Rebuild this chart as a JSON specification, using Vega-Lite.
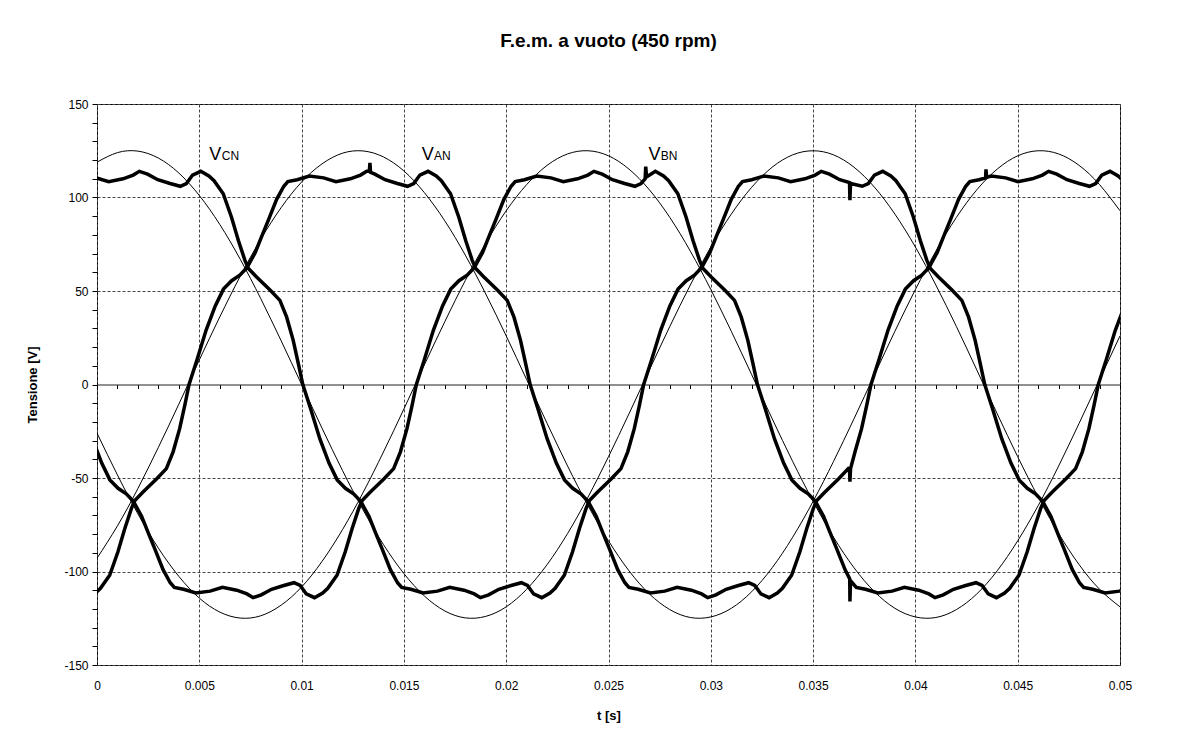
{
  "$schema": "https://vega.github.io/schema/vega-lite/v6.json",
  "width": 1023,
  "height": 561,
  "autosize": {"type": "none"},
  "padding": {"left": 97, "top": 104, "right": 81, "bottom": 77},
  "background": "white",
  "title": {"text": "F.e.m. a vuoto (450 rpm)", "fontSize": 19, "fontWeight": "bold", "font": "Liberation Sans", "color": "black", "offset": 47, "anchor": "middle"},
  "config": {
    "view": {"stroke": "black", "strokeWidth": 1},
    "axis": {"labelFont": "Liberation Sans", "titleFont": "Liberation Sans", "labelColor": "black", "titleColor": "black", "tickColor": "black", "labelOverlap": false, "labelFlush": false}
  },
  "datasets": {
    "sine": [
      {"t":0,"C":118.9,"A":-92.9,"B":-26.0},{"t":0.001,"C":124.0,"A":-75.6,"B":-48.4},{"t":0.002,"C":124.8,"A":-55.6,"B":-69.2},{"t":0.003,"C":121.1,"A":-33.6,"B":-87.5},{"t":0.004,"C":113.1,"A":-10.5,"B":-102.6},{"t":0.005,"C":101.1,"A":13.1,"B":-114.2},{"t":0.006,"C":85.6,"A":36.1,"B":-121.7},{"t":0.007,"C":67.0,"A":57.9,"B":-124.9},{"t":0.008,"C":46.0,"A":77.6,"B":-123.7},{"t":0.009,"C":23.4,"A":94.6,"B":-118.0},
      {"t":0.01,"C":0,"A":108.3,"B":-108.3},{"t":0.011,"C":-23.4,"A":118.0,"B":-94.6},{"t":0.012,"C":-46.0,"A":123.7,"B":-77.6},{"t":0.013,"C":-67.0,"A":124.9,"B":-57.9},{"t":0.014,"C":-85.6,"A":121.7,"B":-36.1},{"t":0.015,"C":-101.1,"A":114.2,"B":-13.1},{"t":0.016,"C":-113.1,"A":102.6,"B":10.5},{"t":0.017,"C":-121.1,"A":87.5,"B":33.6},{"t":0.018,"C":-124.8,"A":69.2,"B":55.6},{"t":0.019,"C":-124.0,"A":48.4,"B":75.6},
      {"t":0.02,"C":-118.9,"A":26.0,"B":92.9},{"t":0.021,"C":-109.5,"A":2.6,"B":106.9},{"t":0.022,"C":-96.3,"A":-20.8,"B":117.2},{"t":0.023,"C":-79.7,"A":-43.6,"B":123.3},{"t":0.024,"C":-60.2,"A":-64.8,"B":125.0},{"t":0.025,"C":-38.6,"A":-83.6,"B":122.3},{"t":0.026,"C":-15.7,"A":-99.6,"B":115.2},{"t":0.027,"C":7.8,"A":-112.0,"B":104.1},{"t":0.028,"C":31.1,"A":-120.4,"B":89.3},{"t":0.029,"C":53.2,"A":-124.6,"B":71.3},
      {"t":0.03,"C":73.5,"A":-124.3,"B":50.8},{"t":0.031,"C":91.1,"A":-119.7,"B":28.5},{"t":0.032,"C":105.5,"A":-110.8,"B":5.2},{"t":0.033,"C":116.2,"A":-98.0,"B":-18.3},{"t":0.034,"C":122.8,"A":-81.7,"B":-41.1},{"t":0.035,"C":125.0,"A":-62.5,"B":-62.5},{"t":0.036,"C":122.8,"A":-41.1,"B":-81.7},{"t":0.037,"C":116.2,"A":-18.3,"B":-98.0},{"t":0.038,"C":105.5,"A":5.2,"B":-110.8},{"t":0.039,"C":91.1,"A":28.5,"B":-119.7},
      {"t":0.04,"C":73.5,"A":50.8,"B":-124.3},{"t":0.041,"C":53.2,"A":71.3,"B":-124.6},{"t":0.042,"C":31.1,"A":89.3,"B":-120.4},{"t":0.043,"C":7.8,"A":104.1,"B":-112.0},{"t":0.044,"C":-15.7,"A":115.2,"B":-99.6},{"t":0.045,"C":-38.6,"A":122.3,"B":-83.6},{"t":0.046,"C":-60.2,"A":125.0,"B":-64.8},{"t":0.047,"C":-79.7,"A":123.3,"B":-43.6},{"t":0.048,"C":-96.3,"A":117.2,"B":-20.8},{"t":0.049,"C":-109.5,"A":106.9,"B":2.6},
      {"t":0.05,"C":-118.9,"A":92.9,"B":26.0}
    ],
    "meas": [
      {"p":"C","t":-0.00073,"v":111.5},{"p":"C","t":-0.00003,"v":110.5},{"p":"C","t":0.00057,"v":108.5},{"p":"C","t":0.00127,"v":110},{"p":"C","t":0.00177,"v":112},{"p":"C","t":0.00207,"v":114},{"p":"C","t":0.00247,"v":112.5},{"p":"C","t":0.00297,"v":109.5},{"p":"C","t":0.00357,"v":107.5},{"p":"C","t":0.00407,"v":106},{"p":"C","t":0.00437,"v":107.5},{"p":"C","t":0.00467,"v":112},{"p":"C","t":0.00507,"v":114},{"p":"C","t":0.00547,"v":111.5},{"p":"C","t":0.00572,"v":109},{"p":"C","t":0.00617,"v":102},{"p":"C","t":0.00657,"v":89.6},{"p":"C","t":0.00691,"v":77},{"p":"C","t":0.00723,"v":66.4},{"p":"C","t":0.0074,"v":62},{"p":"C","t":0.0078,"v":57.5},{"p":"C","t":0.00847,"v":50.4},{"p":"C","t":0.00894,"v":45},{"p":"C","t":0.00927,"v":36},{"p":"C","t":0.00959,"v":23.6},{"p":"C","t":0.00984,"v":11.1},{"p":"C","t":0.01006,"v":0},{"p":"C","t":0.01044,"v":-13},{"p":"C","t":0.01089,"v":-29},{"p":"C","t":0.01134,"v":-42},{"p":"C","t":0.01174,"v":-51},{"p":"C","t":0.01214,"v":-55.5},{"p":"C","t":0.01254,"v":-58.5},{"p":"C","t":0.01289,"v":-62.5},{"p":"C","t":0.01329,"v":-70.5},{"p":"C","t":0.01364,"v":-80},{"p":"C","t":0.01394,"v":-88},{"p":"C","t":0.01434,"v":-99},{"p":"C","t":0.01469,"v":-106},{"p":"C","t":0.01489,"v":-108.5},{"p":"C","t":0.01534,"v":-109.5},{"p":"C","t":0.01594,"v":-111.5},{"p":"C","t":0.01664,"v":-110.5},{"p":"C","t":0.01724,"v":-108.5},{"p":"C","t":0.01794,"v":-110},{"p":"C","t":0.01844,"v":-112},{"p":"C","t":0.01874,"v":-114},{"p":"C","t":0.01914,"v":-112.5},{"p":"C","t":0.01964,"v":-109.5},{"p":"C","t":0.02024,"v":-107.5},{"p":"C","t":0.02074,"v":-106},{"p":"C","t":0.02104,"v":-107.5},{"p":"C","t":0.02134,"v":-112},{"p":"C","t":0.02174,"v":-114},{"p":"C","t":0.02214,"v":-111.5},{"p":"C","t":0.02239,"v":-109},{"p":"C","t":0.02284,"v":-102},{"p":"C","t":0.02324,"v":-89.6},{"p":"C","t":0.02358,"v":-77},{"p":"C","t":0.0239,"v":-66.4},{"p":"C","t":0.02407,"v":-62},{"p":"C","t":0.02447,"v":-57.5},{"p":"C","t":0.02514,"v":-50.4},{"p":"C","t":0.02561,"v":-45},{"p":"C","t":0.02594,"v":-36},{"p":"C","t":0.02626,"v":-23.6},{"p":"C","t":0.02651,"v":-11.1},{"p":"C","t":0.02672,"v":0},{"p":"C","t":0.0271,"v":13},{"p":"C","t":0.02755,"v":29},{"p":"C","t":0.028,"v":42},{"p":"C","t":0.0284,"v":51},{"p":"C","t":0.0288,"v":55.5},{"p":"C","t":0.0292,"v":58.5},{"p":"C","t":0.02955,"v":62.5},{"p":"C","t":0.02995,"v":70.5},{"p":"C","t":0.0303,"v":80},{"p":"C","t":0.0306,"v":88},{"p":"C","t":0.031,"v":99},{"p":"C","t":0.03135,"v":106},{"p":"C","t":0.03155,"v":108.5},{"p":"C","t":0.032,"v":109.5},{"p":"C","t":0.0326,"v":111.5},{"p":"C","t":0.0333,"v":110.5},{"p":"C","t":0.0339,"v":108.5},{"p":"C","t":0.0346,"v":110},{"p":"C","t":0.0351,"v":112},{"p":"C","t":0.0354,"v":114},{"p":"C","t":0.0358,"v":112.5},{"p":"C","t":0.0363,"v":109.5},{"p":"C","t":0.03678,"v":108},{"p":"C","t":0.0368,"v":98.5},{"p":"C","t":0.03683,"v":107.5},{"p":"C","t":0.0374,"v":106},{"p":"C","t":0.0377,"v":107.5},{"p":"C","t":0.038,"v":112},{"p":"C","t":0.0384,"v":114},{"p":"C","t":0.0388,"v":111.5},{"p":"C","t":0.03905,"v":109},{"p":"C","t":0.0395,"v":102},{"p":"C","t":0.0399,"v":89.6},{"p":"C","t":0.04024,"v":77},{"p":"C","t":0.04056,"v":66.4},{"p":"C","t":0.04073,"v":62},{"p":"C","t":0.04113,"v":57.5},{"p":"C","t":0.0418,"v":50.4},{"p":"C","t":0.04227,"v":45},{"p":"C","t":0.0426,"v":36},{"p":"C","t":0.04292,"v":23.6},{"p":"C","t":0.04317,"v":11.1},{"p":"C","t":0.04339,"v":0},{"p":"C","t":0.04377,"v":-13},{"p":"C","t":0.04422,"v":-29},{"p":"C","t":0.04467,"v":-42},{"p":"C","t":0.04507,"v":-51},{"p":"C","t":0.04547,"v":-55.5},{"p":"C","t":0.04587,"v":-58.5},{"p":"C","t":0.04622,"v":-62.5},{"p":"C","t":0.04662,"v":-70.5},{"p":"C","t":0.04697,"v":-80},{"p":"C","t":0.04727,"v":-88},{"p":"C","t":0.04767,"v":-99},{"p":"C","t":0.04802,"v":-106},{"p":"C","t":0.04822,"v":-108.5},{"p":"C","t":0.04867,"v":-109.5},{"p":"C","t":0.04927,"v":-111.5},{"p":"C","t":0.04997,"v":-110.5},{"p":"C","t":0.05057,"v":-108.5},
      {"p":"A","t":-0.00258,"v":-109.5},{"p":"A","t":-0.00198,"v":-107.5},{"p":"A","t":-0.00148,"v":-106},{"p":"A","t":-0.00118,"v":-107.5},{"p":"A","t":-0.00088,"v":-112},{"p":"A","t":-0.00048,"v":-114},{"p":"A","t":-0.00008,"v":-111.5},{"p":"A","t":0.00017,"v":-109},{"p":"A","t":0.00062,"v":-102},{"p":"A","t":0.00102,"v":-89.6},{"p":"A","t":0.00136,"v":-77},{"p":"A","t":0.00168,"v":-66.4},{"p":"A","t":0.00185,"v":-62},{"p":"A","t":0.00225,"v":-57.5},{"p":"A","t":0.00292,"v":-50.4},{"p":"A","t":0.00339,"v":-45},{"p":"A","t":0.00372,"v":-36},{"p":"A","t":0.00404,"v":-23.6},{"p":"A","t":0.00429,"v":-11.1},{"p":"A","t":0.0045,"v":0},{"p":"A","t":0.00488,"v":13},{"p":"A","t":0.00533,"v":29},{"p":"A","t":0.00578,"v":42},{"p":"A","t":0.00618,"v":51},{"p":"A","t":0.00658,"v":55.5},{"p":"A","t":0.00698,"v":58.5},{"p":"A","t":0.00733,"v":62.5},{"p":"A","t":0.00773,"v":70.5},{"p":"A","t":0.00808,"v":80},{"p":"A","t":0.00838,"v":88},{"p":"A","t":0.00878,"v":99},{"p":"A","t":0.00913,"v":106},{"p":"A","t":0.00933,"v":108.5},{"p":"A","t":0.00978,"v":109.5},{"p":"A","t":0.01038,"v":111.5},{"p":"A","t":0.01108,"v":110.5},{"p":"A","t":0.01168,"v":108.5},{"p":"A","t":0.01238,"v":110},{"p":"A","t":0.01288,"v":112},{"p":"A","t":0.01318,"v":114},{"p":"A","t":0.01331,"v":114},{"p":"A","t":0.01334,"v":118.5},{"p":"A","t":0.01337,"v":113.5},{"p":"A","t":0.01358,"v":112.5},{"p":"A","t":0.01408,"v":109.5},{"p":"A","t":0.01468,"v":107.5},{"p":"A","t":0.01518,"v":106},{"p":"A","t":0.01548,"v":107.5},{"p":"A","t":0.01578,"v":112},{"p":"A","t":0.01618,"v":114},{"p":"A","t":0.01658,"v":111.5},{"p":"A","t":0.01683,"v":109},{"p":"A","t":0.01728,"v":102},{"p":"A","t":0.01768,"v":89.6},{"p":"A","t":0.01802,"v":77},{"p":"A","t":0.01834,"v":66.4},{"p":"A","t":0.01851,"v":62},{"p":"A","t":0.01891,"v":57.5},{"p":"A","t":0.01958,"v":50.4},{"p":"A","t":0.02005,"v":45},{"p":"A","t":0.02038,"v":36},{"p":"A","t":0.0207,"v":23.6},{"p":"A","t":0.02095,"v":11.1},{"p":"A","t":0.02117,"v":0},{"p":"A","t":0.02155,"v":-13},{"p":"A","t":0.022,"v":-29},{"p":"A","t":0.02245,"v":-42},{"p":"A","t":0.02285,"v":-51},{"p":"A","t":0.02325,"v":-55.5},{"p":"A","t":0.02365,"v":-58.5},{"p":"A","t":0.024,"v":-62.5},{"p":"A","t":0.0244,"v":-70.5},{"p":"A","t":0.02475,"v":-80},{"p":"A","t":0.02505,"v":-88},{"p":"A","t":0.02545,"v":-99},{"p":"A","t":0.0258,"v":-106},{"p":"A","t":0.026,"v":-108.5},{"p":"A","t":0.02645,"v":-109.5},{"p":"A","t":0.02705,"v":-111.5},{"p":"A","t":0.02775,"v":-110.5},{"p":"A","t":0.02835,"v":-108.5},{"p":"A","t":0.02905,"v":-110},{"p":"A","t":0.02955,"v":-112},{"p":"A","t":0.02985,"v":-114},{"p":"A","t":0.03025,"v":-112.5},{"p":"A","t":0.03075,"v":-109.5},{"p":"A","t":0.03135,"v":-107.5},{"p":"A","t":0.03185,"v":-106},{"p":"A","t":0.03215,"v":-107.5},{"p":"A","t":0.03245,"v":-112},{"p":"A","t":0.03285,"v":-114},{"p":"A","t":0.03325,"v":-111.5},{"p":"A","t":0.0335,"v":-109},{"p":"A","t":0.03395,"v":-102},{"p":"A","t":0.03435,"v":-89.6},{"p":"A","t":0.03469,"v":-77},{"p":"A","t":0.03501,"v":-66.4},{"p":"A","t":0.03518,"v":-62},{"p":"A","t":0.03558,"v":-57.5},{"p":"A","t":0.03625,"v":-50.4},{"p":"A","t":0.03672,"v":-45},{"p":"A","t":0.03678,"v":-45.5},{"p":"A","t":0.0368,"v":-52},{"p":"A","t":0.03683,"v":-45},{"p":"A","t":0.03705,"v":-36},{"p":"A","t":0.03737,"v":-23.6},{"p":"A","t":0.03762,"v":-11.1},{"p":"A","t":0.03783,"v":0},{"p":"A","t":0.03821,"v":13},{"p":"A","t":0.03866,"v":29},{"p":"A","t":0.03911,"v":42},{"p":"A","t":0.03951,"v":51},{"p":"A","t":0.03991,"v":55.5},{"p":"A","t":0.04031,"v":58.5},{"p":"A","t":0.04066,"v":62.5},{"p":"A","t":0.04106,"v":70.5},{"p":"A","t":0.04141,"v":80},{"p":"A","t":0.04171,"v":88},{"p":"A","t":0.04211,"v":99},{"p":"A","t":0.04246,"v":106},{"p":"A","t":0.04266,"v":108.5},{"p":"A","t":0.04311,"v":109.5},{"p":"A","t":0.04343,"v":110.5},{"p":"A","t":0.04345,"v":115},{"p":"A","t":0.04348,"v":110.8},{"p":"A","t":0.04371,"v":111.5},{"p":"A","t":0.04441,"v":110.5},{"p":"A","t":0.04501,"v":108.5},{"p":"A","t":0.04571,"v":110},{"p":"A","t":0.04621,"v":112},{"p":"A","t":0.04651,"v":114},{"p":"A","t":0.04691,"v":112.5},{"p":"A","t":0.04741,"v":109.5},{"p":"A","t":0.04801,"v":107.5},{"p":"A","t":0.04851,"v":106},{"p":"A","t":0.04881,"v":107.5},{"p":"A","t":0.04911,"v":112},{"p":"A","t":0.04951,"v":114},{"p":"A","t":0.04991,"v":111.5},{"p":"A","t":0.05016,"v":109},
      {"p":"B","t":-0.00105,"v":0},{"p":"B","t":-0.00067,"v":-13},{"p":"B","t":-0.00022,"v":-29},{"p":"B","t":0.00023,"v":-42},{"p":"B","t":0.00063,"v":-51},{"p":"B","t":0.00103,"v":-55.5},{"p":"B","t":0.00143,"v":-58.5},{"p":"B","t":0.00178,"v":-62.5},{"p":"B","t":0.00218,"v":-70.5},{"p":"B","t":0.00253,"v":-80},{"p":"B","t":0.00283,"v":-88},{"p":"B","t":0.00323,"v":-99},{"p":"B","t":0.00358,"v":-106},{"p":"B","t":0.00378,"v":-108.5},{"p":"B","t":0.00423,"v":-109.5},{"p":"B","t":0.00483,"v":-111.5},{"p":"B","t":0.00553,"v":-110.5},{"p":"B","t":0.00613,"v":-108.5},{"p":"B","t":0.00683,"v":-110},{"p":"B","t":0.00733,"v":-112},{"p":"B","t":0.00763,"v":-114},{"p":"B","t":0.00803,"v":-112.5},{"p":"B","t":0.00853,"v":-109.5},{"p":"B","t":0.00913,"v":-107.5},{"p":"B","t":0.00963,"v":-106},{"p":"B","t":0.00993,"v":-107.5},{"p":"B","t":0.01023,"v":-112},{"p":"B","t":0.01063,"v":-114},{"p":"B","t":0.01103,"v":-111.5},{"p":"B","t":0.01128,"v":-109},{"p":"B","t":0.01173,"v":-102},{"p":"B","t":0.01213,"v":-89.6},{"p":"B","t":0.01247,"v":-77},{"p":"B","t":0.01279,"v":-66.4},{"p":"B","t":0.01296,"v":-62},{"p":"B","t":0.01336,"v":-57.5},{"p":"B","t":0.01403,"v":-50.4},{"p":"B","t":0.0145,"v":-45},{"p":"B","t":0.01483,"v":-36},{"p":"B","t":0.01515,"v":-23.6},{"p":"B","t":0.0154,"v":-11.1},{"p":"B","t":0.01561,"v":0},{"p":"B","t":0.01599,"v":13},{"p":"B","t":0.01644,"v":29},{"p":"B","t":0.01689,"v":42},{"p":"B","t":0.01729,"v":51},{"p":"B","t":0.01769,"v":55.5},{"p":"B","t":0.01809,"v":58.5},{"p":"B","t":0.01844,"v":62.5},{"p":"B","t":0.01884,"v":70.5},{"p":"B","t":0.01919,"v":80},{"p":"B","t":0.01949,"v":88},{"p":"B","t":0.01989,"v":99},{"p":"B","t":0.02024,"v":106},{"p":"B","t":0.02044,"v":108.5},{"p":"B","t":0.02089,"v":109.5},{"p":"B","t":0.02149,"v":111.5},{"p":"B","t":0.02219,"v":110.5},{"p":"B","t":0.02279,"v":108.5},{"p":"B","t":0.02349,"v":110},{"p":"B","t":0.02399,"v":112},{"p":"B","t":0.02429,"v":114},{"p":"B","t":0.02469,"v":112.5},{"p":"B","t":0.02519,"v":109.5},{"p":"B","t":0.02579,"v":107.5},{"p":"B","t":0.02629,"v":106},{"p":"B","t":0.02659,"v":107.5},{"p":"B","t":0.02679,"v":110},{"p":"B","t":0.02682,"v":116.5},{"p":"B","t":0.02686,"v":111},{"p":"B","t":0.02729,"v":114},{"p":"B","t":0.02769,"v":111.5},{"p":"B","t":0.02794,"v":109},{"p":"B","t":0.02839,"v":102},{"p":"B","t":0.02879,"v":89.6},{"p":"B","t":0.02913,"v":77},{"p":"B","t":0.02945,"v":66.4},{"p":"B","t":0.02962,"v":62},{"p":"B","t":0.03002,"v":57.5},{"p":"B","t":0.03069,"v":50.4},{"p":"B","t":0.03116,"v":45},{"p":"B","t":0.03149,"v":36},{"p":"B","t":0.03181,"v":23.6},{"p":"B","t":0.03206,"v":11.1},{"p":"B","t":0.03228,"v":0},{"p":"B","t":0.03266,"v":-13},{"p":"B","t":0.03311,"v":-29},{"p":"B","t":0.03356,"v":-42},{"p":"B","t":0.03396,"v":-51},{"p":"B","t":0.03436,"v":-55.5},{"p":"B","t":0.03476,"v":-58.5},{"p":"B","t":0.03511,"v":-62.5},{"p":"B","t":0.03551,"v":-70.5},{"p":"B","t":0.03586,"v":-80},{"p":"B","t":0.03616,"v":-88},{"p":"B","t":0.03656,"v":-99},{"p":"B","t":0.03679,"v":-104},{"p":"B","t":0.0368,"v":-116},{"p":"B","t":0.03683,"v":-105},{"p":"B","t":0.03691,"v":-106},{"p":"B","t":0.03711,"v":-108.5},{"p":"B","t":0.03756,"v":-109.5},{"p":"B","t":0.03816,"v":-111.5},{"p":"B","t":0.03886,"v":-110.5},{"p":"B","t":0.03946,"v":-108.5},{"p":"B","t":0.04016,"v":-110},{"p":"B","t":0.04066,"v":-112},{"p":"B","t":0.04096,"v":-114},{"p":"B","t":0.04136,"v":-112.5},{"p":"B","t":0.04186,"v":-109.5},{"p":"B","t":0.04246,"v":-107.5},{"p":"B","t":0.04296,"v":-106},{"p":"B","t":0.04326,"v":-107.5},{"p":"B","t":0.04356,"v":-112},{"p":"B","t":0.04396,"v":-114},{"p":"B","t":0.04436,"v":-111.5},{"p":"B","t":0.04461,"v":-109},{"p":"B","t":0.04506,"v":-102},{"p":"B","t":0.04546,"v":-89.6},{"p":"B","t":0.0458,"v":-77},{"p":"B","t":0.04612,"v":-66.4},{"p":"B","t":0.04629,"v":-62},{"p":"B","t":0.04669,"v":-57.5},{"p":"B","t":0.04736,"v":-50.4},{"p":"B","t":0.04783,"v":-45},{"p":"B","t":0.04816,"v":-36},{"p":"B","t":0.04848,"v":-23.6},{"p":"B","t":0.04873,"v":-11.1},{"p":"B","t":0.04894,"v":0},{"p":"B","t":0.04932,"v":13},{"p":"B","t":0.04977,"v":29},{"p":"B","t":0.05022,"v":42}
    ],
    "lab": [
      {"t":0.00549,"v":120,"m":"V","s":"CN"},
      {"t":0.01587,"v":120,"m":"V","s":"AN"},
      {"t":0.02695,"v":120,"m":"V","s":"BN"}
    ]
  },
  "layer": [
    {
      "data": {"name": "sine"},
      "transform": [{"fold": ["A", "B", "C"], "as": ["p", "v"]}],
      "mark": {"type": "line", "color": "black", "strokeWidth": 1, "interpolate": "natural", "clip": true},
      "encoding": {
        "x": {"field": "t", "type": "quantitative", "scale": {"domain": [0, 0.05], "nice": false, "zero": false},
          "axis": {"orient": "bottom", "values": [0,0.005,0.01,0.015,0.02,0.025,0.03,0.035,0.04,0.045,0.05], "tickCount": 200, "labelExpr": "toString(datum.value)", "ticks": false, "domain": false, "grid": true, "gridDash": [3,2], "gridColor": "#444", "gridWidth": 1, "labelPadding": 15, "labelFontSize": 12, "title": "t [s]", "titleFontSize": 13, "titleFontWeight": "bold", "titlePadding": 18}},
        "y": {"field": "v", "type": "quantitative", "scale": {"domain": [-150, 150], "nice": false},
          "axis": {"values": [-150,-140,-130,-120,-110,-100,-90,-80,-70,-60,-50,-40,-30,-20,-10,0,10,20,30,40,50,60,70,80,90,100,110,120,130,140,150], "tickCount": 200, "labelExpr": "datum.value % 50 === 0 ? toString(datum.value) : ''", "grid": true, "gridDash": [3,2], "gridColor": "#444", "gridOpacity": {"condition": {"test": "datum.value % 50 !== 0 || datum.value === 0", "value": 0}, "value": 1}, "ticks": true, "tickSize": 5, "labelPadding": 4, "domain": false, "labelFontSize": 12, "title": "Tensione [V]", "titleFontSize": 13, "titleFontWeight": "bold", "titlePadding": 24}},
        "detail": {"field": "p"}
      }
    },
    {
      "data": {"name": "meas"},
      "mark": {"type": "line", "color": "black", "strokeWidth": 3.5, "interpolate": "linear", "clip": true},
      "encoding": {
        "x": {"field": "t", "type": "quantitative",
          "axis": {"orient": "bottom", "offset": -280.5, "tickCount": 200, "values": [0,0.001,0.002,0.003,0.004,0.005,0.006,0.007,0.008,0.009,0.01,0.011,0.012,0.013,0.014,0.015,0.016,0.017,0.018,0.019,0.02,0.021,0.022,0.023,0.024,0.025,0.026,0.027,0.028,0.029,0.03,0.031,0.032,0.033,0.034,0.035,0.036,0.037,0.038,0.039,0.04,0.041,0.042,0.043,0.044,0.045,0.046,0.047,0.048,0.049,0.05], "labels": false, "grid": false, "title": null, "ticks": true, "tickSize": 4, "domain": true, "domainColor": "#222", "domainWidth": 1.2}},
        "y": {"field": "v", "type": "quantitative"},
        "detail": {"field": "p"}
      }
    },
    {
      "data": {"name": "lab"},
      "mark": {"type": "text", "align": "left", "baseline": "alphabetic", "fontSize": 18, "font": "Liberation Sans", "color": "black"},
      "encoding": {
        "x": {"field": "t", "type": "quantitative", "axis": null},
        "y": {"field": "v", "type": "quantitative"},
        "text": {"field": "m"}
      }
    },
    {
      "data": {"name": "lab"},
      "mark": {"type": "text", "align": "left", "baseline": "alphabetic", "fontSize": 12, "font": "Liberation Sans", "color": "black", "dx": 12.4},
      "encoding": {
        "x": {"field": "t", "type": "quantitative", "axis": null},
        "y": {"field": "v", "type": "quantitative"},
        "text": {"field": "s"}
      }
    }
  ],
  "resolve": {"axis": {"x": "independent"}}
}
